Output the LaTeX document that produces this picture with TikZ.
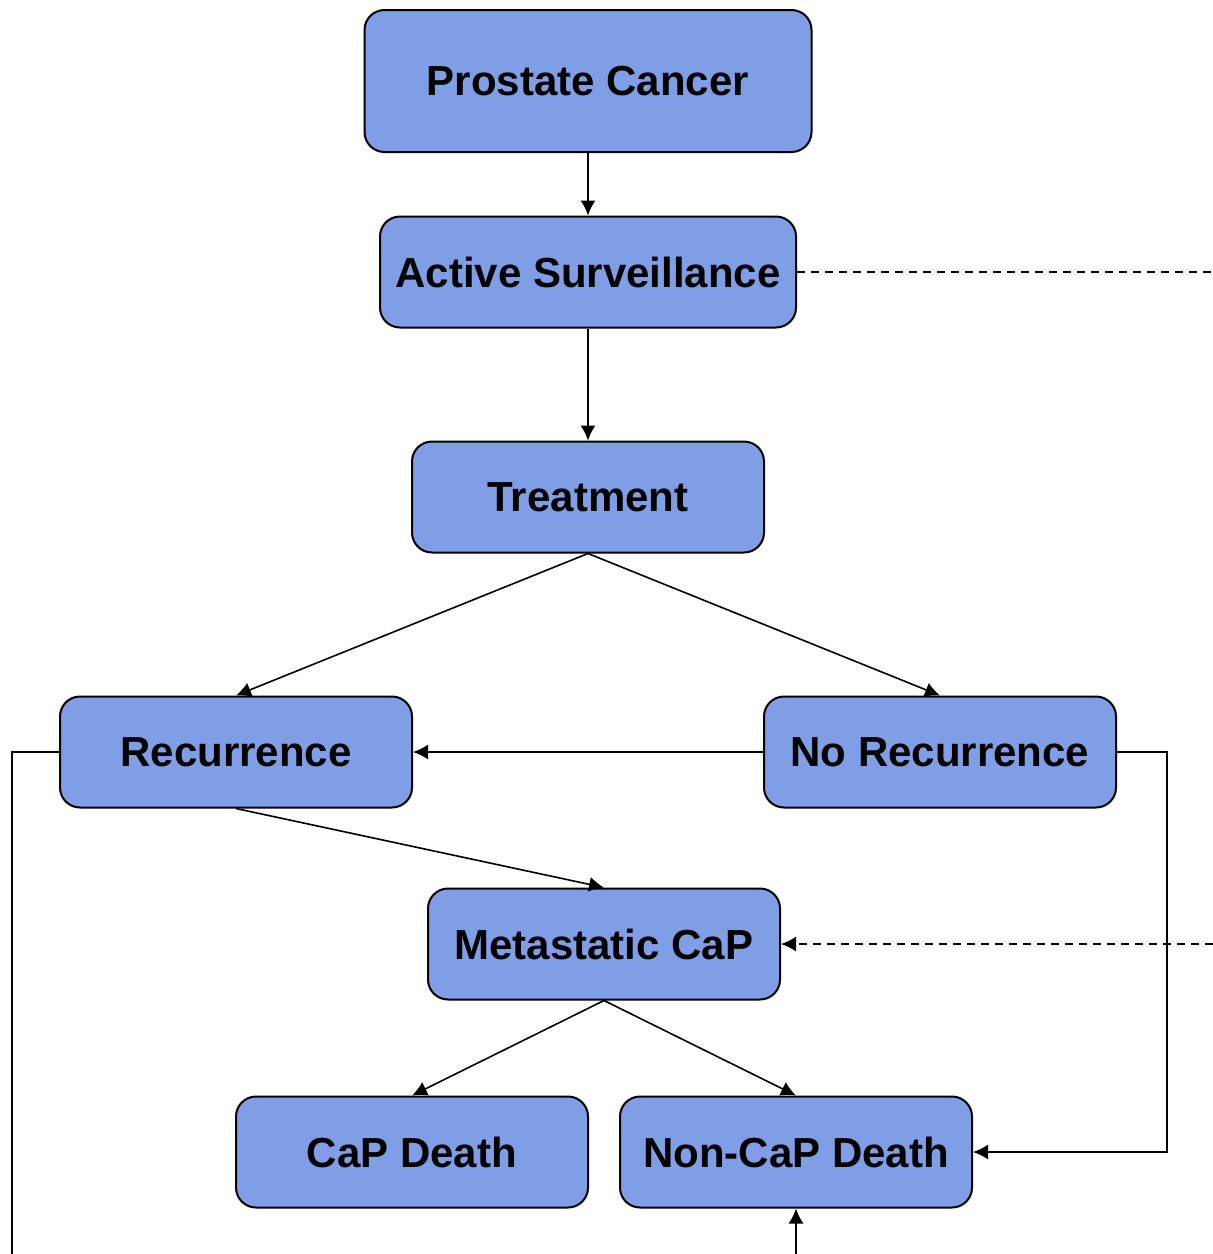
\documentclass[tikz,border=0pt]{standalone}
\usepackage{fontspec}
\setmainfont{Liberation Sans}
\usetikzlibrary{arrows.meta}
\definecolor{boxblue}{RGB}{128,158,230}
\tikzset{
  state/.style={draw=black, line width=1pt, fill=boxblue, rounded corners=10pt,
    minimum width=176pt, minimum height=55.5pt, inner sep=0pt,
    font=\fontsize{21}{25}\selectfont\bfseries},
  link/.style={line width=0.8pt, -{Latex[length=7.5pt,width=7.5pt]}},
  plain/.style={line width=0.8pt},
  maybe/.style={line width=0.8pt, dash pattern=on 4pt off 3pt}
}
\begin{document}
\begin{tikzpicture}[x=0.5pt,y=-0.5pt]
\useasboundingbox (0,0) rectangle (1213,1254);
% states
\node[state, minimum width=223.5pt, minimum height=71pt] (pc) at (588,81) {Prostate Cancer};
\node[state, minimum width=208pt] (as) at (588,272) {Active Surveillance};
\node[state] (treat) at (588,497) {Treatment};
\node[state] (rec) at (236,752) {Recurrence};
\node[state] (norec) at (940,752) {No Recurrence};
\node[state] (meta) at (604,944) {Metastatic CaP};
\node[state] (capd) at (412,1152) {CaP Death};
\node[state] (noncapd) at (796,1152) {Non-CaP Death};
% loose ends
\coordinate (asout) at (1213,272);
\coordinate (metain) at (1213,944);
\coordinate (recout) at (12,1254);
\coordinate (ncdin) at (796,1254);
% transitions
\draw[link] (pc) -- (as);
\draw[link] (as) -- (treat);
\draw[link] (treat.south) -- (rec.north);
\draw[link] (treat.south) -- (norec.north);
\draw[link] (norec) -- (rec);
\draw[link] (rec.south) -- (meta.north);
\draw[link] (meta.south) -- (capd.north);
\draw[link] (meta.south) -- (noncapd.north);
\draw[link] (norec.east) -- ++(50,0) |- (noncapd.east);
\draw[plain] (rec.west) -| (recout);
\draw[link] (ncdin) -- (noncapd.south);
\draw[maybe] (as.east) -- (asout);
\draw[maybe, -{Latex[length=7.5pt,width=7.5pt]}] (metain) -- (meta.east);
\end{tikzpicture}
\end{document}
